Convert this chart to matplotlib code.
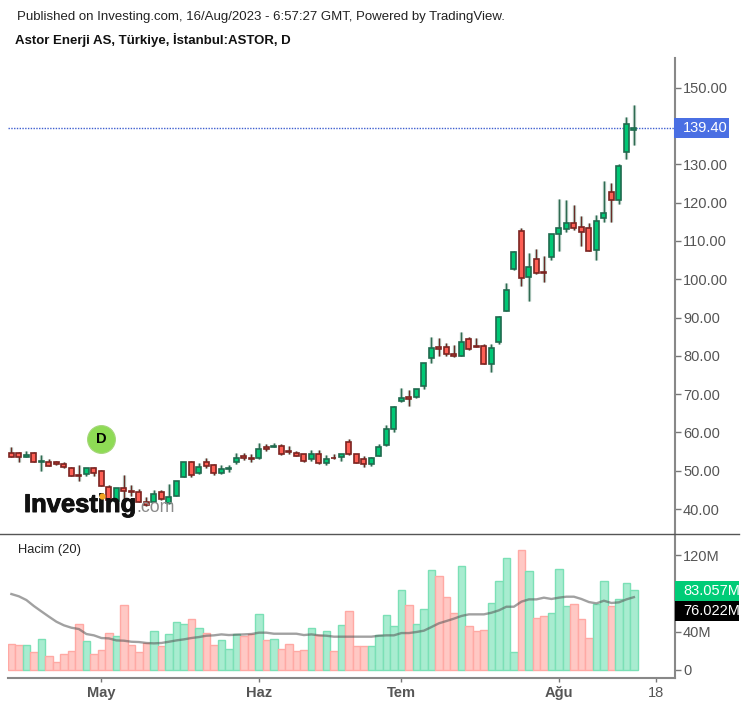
import matplotlib
matplotlib.use('Agg')
import matplotlib.pyplot as plt
import matplotlib.patheffects as pe
from matplotlib.patches import Rectangle
from matplotlib.lines import Line2D

plt.rcParams['font.family'] = ['Liberation Sans', 'DejaVu Sans']

# Fiyat verileri (gunluk mumlar)
acilis = [54.61, 54.61, 53.57, 54.61, 52.26, 52.26, 52.26, 51.66, 50.70, 48.78, 49.04, 50.61, 50.00, 45.74,
          42.00, 45.39, 44.78, 44.43, 41.82, 41.82, 44.43, 41.47, 43.47, 48.35, 52.26, 49.39, 52.26, 51.57,
          49.39, 50.44, 52.26, 53.91, 53.30, 53.30, 56.17, 56.17, 56.52, 55.22, 54.52, 54.26, 52.95, 54.26,
          51.91, 53.39, 53.56, 57.48, 54.26, 52.95, 51.65, 53.91, 56.61, 60.79, 68.10, 69.23, 69.14, 72.19,
          79.32, 82.28, 82.28, 80.46, 80.02, 84.29, 82.63, 82.60, 77.90, 83.50, 91.70, 102.74, 112.67, 100.57,
          105.18, 101.96, 105.79, 111.71, 113.01, 114.58, 113.62, 113.36, 107.71, 115.97, 122.76, 120.76,
          133.21, 139.05]
maximum = [56.27, 54.79, 55.05, 54.96, 54.01, 53.05, 52.61, 52.35, 50.96, 51.39, 50.79, 51.05, 50.09, 46.17,
           45.48, 48.87, 46.26, 45.22, 43.13, 44.95, 45.04, 46.52, 47.39, 52.35, 52.53, 52.00, 53.31, 51.74,
           51.39, 51.57, 54.70, 54.70, 54.35, 57.22, 56.96, 57.22, 56.87, 56.35, 55.04, 54.43, 55.30, 55.30,
           54.00, 54.35, 54.43, 58.35, 54.43, 53.74, 53.56, 56.96, 61.92, 66.79, 71.58, 70.97, 71.32, 78.19,
           84.98, 84.63, 83.24, 82.81, 86.29, 84.98, 84.63, 83.20, 83.20, 90.30, 99.00, 107.27, 113.45, 106.84,
           107.88, 105.96, 111.80, 121.02, 120.67, 119.37, 116.41, 114.76, 116.76, 125.55, 125.11, 130.07,
           142.43, 145.48]
minimum = [53.57, 52.26, 53.57, 52.26, 49.92, 51.13, 51.57, 50.61, 48.61, 47.22, 48.61, 48.52, 45.91, 42.00,
           41.12, 42.69, 43.30, 41.73, 40.86, 41.73, 42.43, 41.39, 43.30, 48.26, 48.26, 49.22, 50.61, 48.87,
           49.22, 49.65, 51.83, 52.78, 52.17, 53.13, 55.13, 56.09, 54.17, 54.43, 53.74, 52.17, 52.52, 51.82,
           51.47, 53.13, 52.43, 54.09, 51.91, 50.87, 51.30, 53.74, 56.44, 60.00, 67.84, 66.79, 68.88, 71.41,
           78.02, 79.85, 79.85, 79.59, 79.93, 81.59, 82.20, 77.85, 75.70, 83.20, 91.60, 102.31, 98.13, 94.22,
           101.44, 99.18, 104.92, 107.27, 112.23, 112.75, 108.58, 107.36, 105.01, 114.84, 114.84, 119.72,
           131.47, 135.03]
kapanis = [53.57, 53.57, 54.01, 52.26, 52.44, 51.31, 51.66, 50.96, 48.70, 48.61, 50.61, 49.39, 46.09, 42.43,
           45.39, 44.69, 44.43, 41.82, 41.12, 43.82, 42.52, 43.13, 47.39, 52.26, 48.96, 50.87, 51.22, 49.31,
           50.35, 50.70, 53.22, 53.30, 52.95, 55.57, 55.57, 56.52, 54.26, 54.78, 53.82, 52.52, 54.26, 51.91,
           52.95, 53.22, 54.26, 54.26, 52.00, 51.65, 53.30, 56.17, 60.79, 66.62, 68.97, 68.62, 71.23, 78.11,
           82.02, 81.67, 80.37, 79.93, 83.59, 81.67, 82.28, 77.90, 82.00, 90.10, 97.30, 107.10, 100.22, 103.18,
           101.53, 101.53, 111.71, 113.36, 114.67, 113.28, 112.32, 107.44, 115.28, 117.28, 120.76, 129.64,
           140.43, 139.40]

# Hacim (milyon) ve 20 gunluk ortalama
hacim = [26.9, 25.5, 25.5, 18.2, 31.8, 14.0, 7.7, 16.1, 19.2, 47.9, 29.7, 16.1, 20.3, 38.8, 34.9, 67.4, 25.5,
         18.2, 27.6, 40.2, 24.5, 37.4, 49.6, 47.9, 53.1, 44.0, 38.8, 25.5, 30.7, 21.3, 37.0, 34.9, 37.0, 58.0,
         30.7, 31.8, 21.3, 26.9, 19.2, 20.3, 44.0, 36.0, 40.2, 19.2, 46.5, 61.1, 24.5, 24.5, 24.5, 36.0, 57.0,
         45.4, 83.2, 67.4, 47.5, 63.6, 104.1, 97.8, 75.8, 59.7, 108.3, 45.4, 40.2, 41.2, 69.9, 92.6, 117.4,
         18.2, 125.1, 103.1, 54.5, 55.9, 59.7, 105.2, 66.4, 68.5, 53.1, 33.5, 68.5, 92.6, 66.4, 74.1, 91.2,
         83.057]
hacim_ort = [79.3, 76.9, 73.0, 66.7, 61.1, 55.6, 50.3, 46.5, 44.0, 42.6, 37.4, 36.0, 33.2, 32.8, 30.7, 30.4,
             29.3, 29.0, 28.0, 27.6, 28.0, 29.3, 30.7, 31.8, 33.2, 34.2, 35.6, 36.0, 37.0, 36.3, 36.7, 37.0,
             37.4, 38.8, 38.8, 37.7, 37.7, 37.7, 37.7, 36.3, 37.0, 36.0, 35.6, 34.6, 34.6, 34.6, 34.6, 34.6,
             34.6, 35.6, 36.0, 36.0, 38.4, 38.4, 39.5, 40.9, 44.7, 48.6, 51.0, 53.5, 56.3, 58.0, 58.0, 58.0,
             59.7, 62.2, 66.0, 66.0, 71.3, 73.7, 73.7, 75.5, 74.1, 75.5, 76.5, 76.5, 74.1, 70.9, 69.5, 72.3,
             69.9, 70.6, 73.7, 76.022]

fiyat_etiket = [150, 130, 120, 110, 100, 90, 80, 70, 60, 50, 40]
hacim_etiket = [0, 40, 120]
ay_yer = [12, 33, 52, 73, 86]
ay_adi = ['May', 'Haz', 'Tem', 'Ağu', '18']
son_fiyat = 139.40
son_hacim = 83.057
son_ort = 76.022
olay_yer = 12
olay_fiyat = 58.15

W, H = 746, 707
GRI = '#555555'

# Piksel -> figur orani
def fx(p):
    return p / W

def fy(p):
    return 1 - p / H

fig = plt.figure(figsize=(W / 100, H / 100), dpi=100, facecolor='white')
ax1 = fig.add_axes([fx(8), fy(534.3), fx(666.7), fy(58) - fy(534.3)])
ax2 = fig.add_axes([fx(8), fy(678), fx(666.7), fy(534.3) - fy(678)], sharex=ax1)

x = list(range(len(kapanis)))
yukselen = [k >= a for a, k in zip(acilis, kapanis)]

# Mumlar
fitil = ['#2f6b52' if y else '#6b2a26' for y in yukselen]
ax1.vlines(x, minimum, maximum, colors='#b9cfc5', linewidth=2.4, zorder=1)
ax1.vlines(x, minimum, maximum, colors=fitil, linewidth=0.95, zorder=2)
ax1.bar(x, [abs(k - a) for a, k in zip(acilis, kapanis)], bottom=[min(a, k) for a, k in zip(acilis, kapanis)],
        width=0.66,
        color=['#00c875' if y else '#ff5f55' for y in yukselen],
        edgecolor=['#1f6a4e' if y else '#7c2320' for y in yukselen], linewidth=1.2, zorder=3)

ax1.axhline(son_fiyat, color='#3f5fd0', linewidth=1.0, linestyle=(0, (1, 1)), zorder=1)
ax1.scatter([olay_yer], [olay_fiyat], s=400, color='#8edb55', edgecolors='#a5d67a', linewidth=0.8, zorder=5)
ax1.text(olay_yer, olay_fiyat, 'D', fontsize=10.5, fontweight='bold', ha='center', va='center', color='black', zorder=6)

ax1.set_xlim(-0.453, 88.44)
ax1.set_ylim(33.4, 157.75)
ax1.yaxis.tick_right()
ax1.set_yticks(fiyat_etiket)
ax1.set_yticklabels([f'{v:.2f}' for v in fiyat_etiket])
ax1.tick_params(axis='y', length=4, width=1, color='#777777', labelsize=10.5, labelcolor=GRI, pad=2)
ax1.tick_params(axis='x', length=0, labelbottom=False)

# Hacim paneli
ax2.bar(x, hacim, width=1.0,
        color=['#a8ecd0' if y else '#ffc8c4' for y in yukselen],
        edgecolor=['#7be0b6' if y else '#ffa9a4' for y in yukselen], linewidth=1.0, zorder=2)
ax2.plot(x, hacim_ort, color='#555555', alpha=0.55, linewidth=1.7, zorder=3)
ax2.set_ylim(-8.7, 141.9)
ax2.yaxis.tick_right()
ax2.set_yticks(hacim_etiket)
ax2.set_yticklabels(['0', '40M', '120M'])
ax2.tick_params(axis='y', length=4, width=1, color='#777777', labelsize=10.5, labelcolor=GRI, pad=2)
ax2.set_xticks(ay_yer)
ax2.set_xticklabels(ay_adi)
ax2.tick_params(axis='x', length=3, width=1, color='#777777', labelsize=10.5, labelcolor=GRI, pad=3)
for etiket in ax2.get_xticklabels()[:4]:
    etiket.set_fontweight('bold')

for a in (ax1, ax2):
    for s in ('top', 'left', 'bottom'):
        a.spines[s].set_visible(False)
    a.spines['right'].set_color('#888888')
    a.spines['right'].set_linewidth(1.5)
ax2.spines['bottom'].set_visible(True)
ax2.spines['bottom'].set_color('#888888')
ax2.spines['bottom'].set_linewidth(1.5)

# Panel ayirici cizgi
fig.add_artist(Line2D([0, fx(739)], [fy(534.3), fy(534.3)], color='#555555', linewidth=1.0))

# Sag taraftaki son deger kutulari
kutular = [(674, 117.7, 55.3, 20, '#4a6fe3', f'{son_fiyat:.2f}'),
           (674.7, 581.3, 64.3, 19.7, '#00cc77', f'{son_hacim:.3f}M'),
           (674.7, 601, 64.3, 20, 'black', f'{son_ort:.3f}M')]
for kx, ky, kw, kh, renk, yazi in kutular:
    fig.add_artist(Rectangle((fx(kx), fy(ky + kh)), kw / W, kh / H, transform=fig.transFigure, facecolor=renk,
                             edgecolor='none', zorder=5))
    fig.text(fx(683), fy(ky + kh / 2), yazi, color='white', fontsize=10.5, va='center', ha='left', zorder=6)

# Basliklar
fig.text(fx(17), fy(17), 'Published on Investing.com, 16/Aug/2023 - 6:57:27 GMT, Powered by TradingView.',
         fontsize=9.5, color='#222222', va='center')
fig.text(fx(15), fy(40), 'Astor Enerji AS, Türkiye, İstanbul:ASTOR, D', fontsize=9.5, fontweight='bold',
         color='#111111', va='center')
fig.text(fx(18), fy(550), 'Hacim (20)', fontsize=9.3, color='#222222', va='center')

# Filigran
fig.text(fx(24), fy(512), 'Investing', fontsize=18.4, fontweight='bold', color='#111111', va='baseline', zorder=7,
         path_effects=[pe.withStroke(linewidth=0.7, foreground='#111111')])
fig.text(fx(136), fy(512), '.com', fontsize=12.8, color='#8a8a8a', va='baseline', zorder=7)
fig.add_artist(Line2D([fx(101.7)], [fy(496)], marker='o', markersize=3.5, color='#f5a623', linestyle='none', zorder=8))

fig.savefig('out.png', dpi=100)
